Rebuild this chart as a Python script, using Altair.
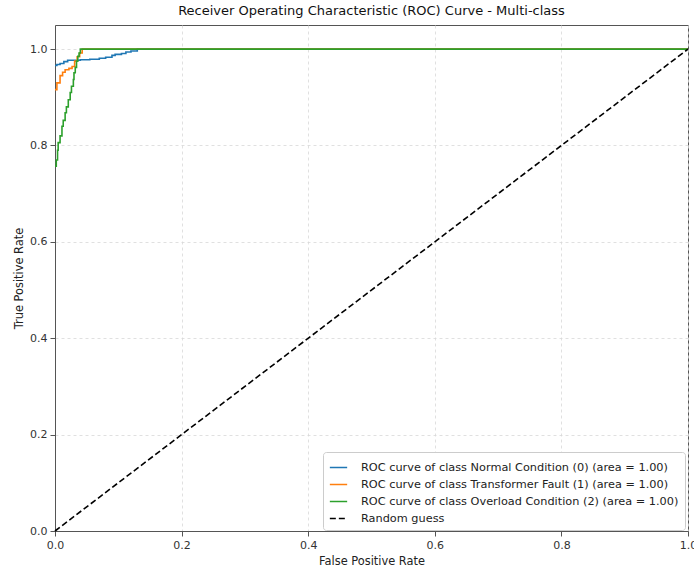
import altair as alt
import pandas as pd

# Class labels shown in the legend
labels = [
    "ROC curve of class Normal Condition (0) (area = 1.00)",
    "ROC curve of class Transformer Fault (1) (area = 1.00)",
    "ROC curve of class Overload Condition (2) (area = 1.00)",
    "Random guess",
]
colors = ["#1f77b4", "#ff7f0e", "#2ca02c", "#000000"]

# ROC points (false positive rate, true positive rate) per class
fpr_normal = [0.0, 0.003, 0.008, 0.014, 0.02, 0.04, 0.055, 0.07, 0.08, 0.09,
              0.095, 0.105, 0.112, 0.12, 0.13, 1.0]
tpr_normal = [0.966, 0.968, 0.970, 0.974, 0.977, 0.978, 0.979, 0.981, 0.983, 0.987,
              0.989, 0.991, 0.994, 0.996, 1.0, 1.0]

fpr_fault = [0.0, 0.003, 0.008, 0.012, 0.016, 0.022, 0.027, 0.031, 0.035, 0.039, 0.043, 1.0]
tpr_fault = [0.916, 0.93, 0.945, 0.952, 0.957, 0.960, 0.964, 0.975, 0.984, 0.992, 1.0, 1.0]

fpr_overload = [0.0, 0.002, 0.004, 0.005, 0.008, 0.011, 0.013, 0.016, 0.018, 0.021,
                0.024, 0.026, 0.029, 0.03, 0.032, 0.034, 0.036, 0.038, 0.04, 1.0]
tpr_overload = [0.757, 0.77, 0.79, 0.806, 0.82, 0.84, 0.852, 0.868, 0.88, 0.895,
                0.91, 0.923, 0.937, 0.951, 0.962, 0.975, 0.985, 0.992, 1.0, 1.0]

# Diagonal reference line
fpr_random = [0.0, 1.0]
tpr_random = [0.0, 1.0]

rows = []
for label, xs, ys in zip(
    labels,
    [fpr_normal, fpr_fault, fpr_overload, fpr_random],
    [tpr_normal, tpr_fault, tpr_overload, tpr_random],
):
    for i, (x, y) in enumerate(zip(xs, ys)):
        rows.append({"series": label, "fpr": x, "tpr": y, "i": i})
df = pd.DataFrame(rows)

FONT = "DejaVu Sans"
TICKS = [0, 0.2, 0.4, 0.6, 0.8, 1.0]

x_enc = alt.X(
    "fpr:Q",
    scale=alt.Scale(domain=[0, 1], nice=False, zero=False),
    axis=alt.Axis(title="False Positive Rate", values=TICKS, format=".1f",
                  titlePadding=5, labelFlush=False),
)
y_enc = alt.Y(
    "tpr:Q",
    scale=alt.Scale(domain=[0, 1.05], nice=False, zero=False),
    axis=alt.Axis(title="True Positive Rate", values=TICKS, format=".1f",
                  titlePadding=5, labelFlush=False),
)
color_enc = alt.Color(
    "series:N",
    scale=alt.Scale(domain=labels, range=colors),
    legend=alt.Legend(
        title=None,
        orient="none",
        legendX=268,
        legendY=427,
        symbolType="stroke",
        symbolSize=300,
        symbolStrokeWidth=1.6,
        labelFont=FONT,
        labelFontSize=11.3,
        labelColor="#222",
        labelLimit=0,
        labelOffset=13,
        rowPadding=2,
        fillColor="white",
        strokeColor="#cccccc",
        cornerRadius=3,
        padding=6,
    ),
)
dash_enc = alt.StrokeDash(
    "series:N",
    scale=alt.Scale(domain=labels, range=[[1, 0], [1, 0], [1, 0], [6, 3]]),
    legend=None,
)

base = alt.Chart(df).encode(
    x=x_enc, y=y_enc, color=color_enc, strokeDash=dash_enc, order=alt.Order("i:Q")
)

# Stepped ROC curves for each class
roc = base.transform_filter(
    alt.datum.series != "Random guess"
).mark_line(interpolate="step-after", strokeWidth=1.6)

# Straight dashed chance line
chance = base.transform_filter(
    alt.datum.series == "Random guess"
).mark_line(strokeWidth=1.6)

chart = (
    alt.layer(roc, chance)
    .properties(
        width=633,
        height=506,
        autosize=alt.AutoSizeParams(type="none"),
        padding={"left": 55, "top": 25, "right": 6, "bottom": 38},
        title=alt.TitleParams(
            "Receiver Operating Characteristic (ROC) Curve - Multi-class",
            font=FONT, fontSize=13, fontWeight="normal", color="#111",
            anchor="middle", offset=7,
        ),
    )
    .configure_view(stroke="#555", strokeWidth=1)
    .configure_axis(
        labelFont=FONT,
        labelFontSize=11,
        labelColor="#333",
        titleFont=FONT,
        titleFontSize=11.4,
        titleFontWeight="normal",
        titleColor="#222",
        domainColor="#555",
        tickColor="#555",
        tickSize=5,
        labelPadding=3,
        grid=True,
        gridColor="#d8d8d8",
        gridDash=[3, 3],
        gridWidth=0.8,
    )
)

chart.save("out.html", embed_options={"renderer": "svg", "actions": False})
